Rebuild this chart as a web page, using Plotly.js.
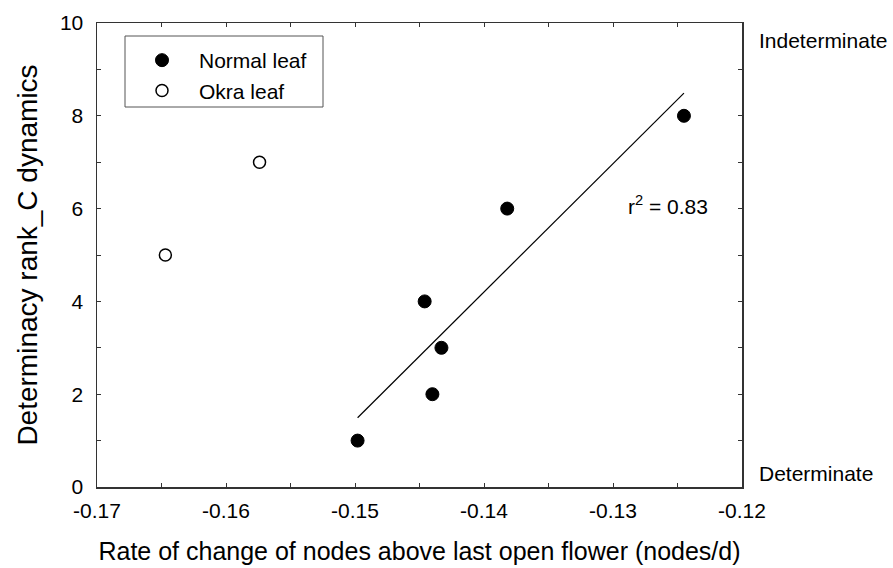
<!DOCTYPE html>
<html>
<head>
<meta charset="utf-8">
<script src="https://cdn.plot.ly/plotly-3.0.1.min.js"></script>
<style>html,body{margin:0;padding:0;background:#fff;}#chart{width:893px;height:568px;}</style>
</head>
<body>
<div id="chart"></div>
<script>
// Data
const normalX = [-0.1498, -0.1440, -0.1433, -0.1446, -0.1382, -0.1245];
const normalY = [1, 2, 3, 4, 6, 8];
const okraX = [-0.1647, -0.1574];
const okraY = [5, 7];
const seriesNames = ["Normal leaf", "Okra leaf"];
const xTickVals = [-0.17, -0.16, -0.15, -0.14, -0.13, -0.12];
const xTickText = ["-0.17", "-0.16", "-0.15", "-0.14", "-0.13", "-0.12"];
const yTickVals = [0, 2, 4, 6, 8, 10];
const yTickText = ["0", "2", "4", "6", "8", "10"];
const r2Label = "r<sup>2</sup> = 0.83";
const topLabel = "Indeterminate";
const bottomLabel = "Determinate";
const xTitle = "Rate of change of nodes above last open flower (nodes/d)";
const yTitle = "Determinacy rank_C dynamics";

// Linear regression on normal-leaf data
const n = normalX.length;
const mx = normalX.reduce((a, b) => a + b, 0) / n;
const my = normalY.reduce((a, b) => a + b, 0) / n;
let sxy = 0, sxx = 0;
for (let i = 0; i < n; i++) { sxy += (normalX[i] - mx) * (normalY[i] - my); sxx += (normalX[i] - mx) ** 2; }
const slope = sxy / sxx, icpt = my - slope * mx;
const fitX = [Math.min(...normalX), Math.max(...normalX)];
const fitY = fitX.map(x => icpt + slope * x);

const font = "Liberation Sans, Arial, sans-serif";

const traces = [
  { x: fitX, y: fitY, mode: "lines", line: { color: "#000", width: 1.2 }, showlegend: false, hoverinfo: "skip" },
  { x: normalX, y: normalY, mode: "markers", name: seriesNames[0],
    marker: { symbol: "circle", size: 13, color: "#000", line: { color: "#000", width: 1 } } },
  { x: okraX, y: okraY, mode: "markers", name: seriesNames[1],
    marker: { symbol: "circle", size: 12, color: "#fff", line: { color: "#000", width: 1.5 } } }
];

const axisCommon = {
  showgrid: false, zeroline: false, showline: true, linecolor: "#333", linewidth: 1.5,
  mirror: "ticks", ticks: "inside", ticklen: 4, tickwidth: 1, tickcolor: "#333",
  tickfont: { family: font, size: 21, color: "#000" }, tickmode: "array"
};

const layout = {
  width: 893, height: 568,
  margin: { l: 97, r: 151, t: 23, b: 81 },
  paper_bgcolor: "#fff", plot_bgcolor: "#fff",
  font: { family: font, color: "#000" },
  xaxis: Object.assign({}, axisCommon, {
    range: [-0.17, -0.12], tickvals: xTickVals, ticktext: xTickText,
    minor: { dtick: 0.005, tick0: -0.17, ticks: "inside", ticklen: 4, tickcolor: "#333", showgrid: false },
    ticklabelstandoff: 4,
    title: { text: xTitle, font: { family: font, size: 25, color: "#000" }, standoff: 22 }
  }),
  yaxis: Object.assign({}, axisCommon, {
    range: [0, 10], tickvals: yTickVals, ticktext: yTickText,
    minor: { dtick: 1, tick0: 0, ticks: "inside", ticklen: 4, tickcolor: "#333", showgrid: false },
    ticklabelstandoff: 8,
    title: { text: yTitle, font: { family: font, size: 28, color: "#000" }, standoff: 14 }
  }),
  showlegend: true,
  legend: {
    x: (125 - 97) / 645, y: (487 - 40) / 464, xanchor: "left", yanchor: "top",
    bgcolor: "rgba(0,0,0,0)", borderwidth: 0,
    font: { family: font, size: 21, color: "#000" },
    tracegroupgap: 0, itemwidth: 64
  },
  shapes: [
    { type: "rect", xref: "paper", yref: "paper",
      x0: 28 / 645, x1: 226 / 645, y0: (487 - 107) / 464, y1: (487 - 36) / 464,
      line: { color: "#555", width: 1 }, fillcolor: "rgba(0,0,0,0)", layer: "above" }
  ],
  annotations: [
    { xref: "paper", yref: "paper", x: 1.023, y: 0.963, xanchor: "left", yanchor: "middle",
      text: topLabel, showarrow: false, font: { family: font, size: 21, color: "#000" } },
    { xref: "paper", yref: "paper", x: 1.023, y: 0.030, xanchor: "left", yanchor: "middle",
      text: bottomLabel, showarrow: false, font: { family: font, size: 21, color: "#000" } },
    { xref: "paper", yref: "paper", x: 0.820, y: 0.607, xanchor: "left", yanchor: "middle",
      text: r2Label, showarrow: false, font: { family: font, size: 21, color: "#000" } }
  ]
};

Plotly.newPlot("chart", traces, layout, { displayModeBar: false, staticPlot: true });
</script>
</body>
</html>
